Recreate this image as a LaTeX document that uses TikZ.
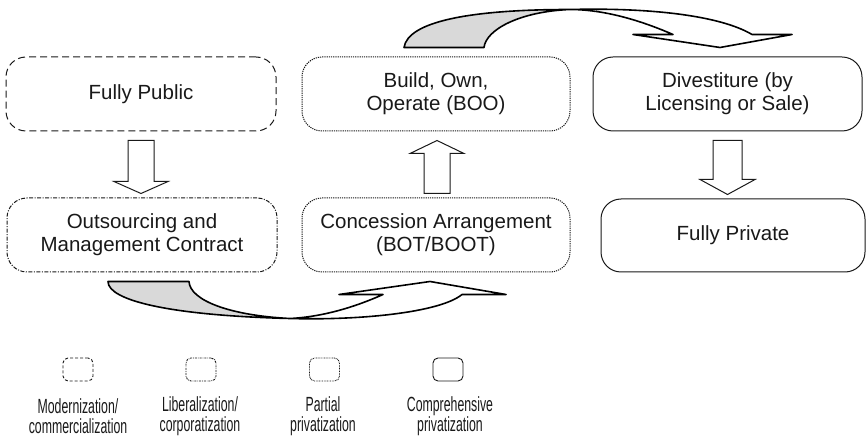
\documentclass[tikz,border=0pt]{standalone}
\usepackage{graphicx}
\usepackage{fontspec}
\setmainfont{Liberation Sans}
\usetikzlibrary{calc}

% squeezed legend lines
\newcommand{\narrowline}[1]{\scalebox{0.6}[1]{#1}}

\begin{document}
\begin{tikzpicture}[x=1pt, y=-1pt,
    every node/.style={align=center, text=black!90, font=\fontsize{20.5}{22.7}\selectfont},
    stage/.style={rounded corners=20pt, draw=black!90, line width=1pt, minimum height=74pt, inner sep=0pt},
    modern/.style={stage, dash pattern=on 7pt off 4pt},
    liberal/.style={stage, dash pattern=on 4pt off 1.5pt on 1pt off 1.5pt},
    partial/.style={stage, dash pattern=on 1.2pt off 1pt},
    full/.style={stage},
    blockarrow/.style={draw=black!90, line width=1pt, fill=white, line join=miter},
    twistarrow/.style={draw=black, line width=1.6pt, line join=round},
    keybox/.style={rounded corners=5pt, draw=black!90, line width=0.9pt, minimum width=30pt, minimum height=23pt, inner sep=0pt},
    keytext/.style={font=\fontsize{20.5}{20}\selectfont}]

    \useasboundingbox (0,0) rectangle (866,443);

    % the six stages
    \node[modern, minimum width=270pt] (pub) at (141,94) {Fully Public};
    \node[partial, minimum width=268pt] (boo) at (436,94) {Build, Own,\\Operate (BOO)};
    \node[full, minimum width=269pt] (div) at (727.5,94) {Divestiture (by\\Licensing or Sale)};
    \node[liberal, minimum width=270pt] (outs) at (142,235) {Outsourcing and\\Management Contract};
    \node[partial, minimum width=268pt] (conc) at (436,235) {Concession Arrangement\\(BOT/BOOT)};
    \node[full, minimum width=264pt, minimum height=73pt] (priv) at (733,235.5) {Fully Private};

    % straight block arrows
    \draw[blockarrow] ($(pub.south)+(-13,9)$) -- ++(0,41) -- ++(-14,0) -- ++(27,12)
        -- ++(27,-12) -- ++(-14,0) -- ++(0,-41) -- cycle;
    \draw[blockarrow] ($(conc.north)+(-12,-4)$) -- ++(0,-40) -- ++(-14,0) -- ++(27,-13)
        -- ++(27,13) -- ++(-14,0) -- ++(0,40) -- cycle;
    \draw[blockarrow] ($(div.south)+(-14.5,9)$) -- ++(0,39) -- ++(-13,0) -- ++(27.5,15)
        -- ++(27.5,-15) -- ++(-13,0) -- ++(0,-39) -- cycle;

    % lower twisted arrow, outsourcing -> concession
    \begin{scope}[shift={(outs.south)}]
        \fill[black!15] (-34,9) -- (47,9) .. controls (48,28) and (88,43) .. (148,46)
            .. controls (28,43) and (-34,28) .. (-34,9) -- cycle;
        \fill[white] (148,46) .. controls (188,44) and (223,30) .. (241,22) -- (197,22)
            -- (288,9) -- (364,22) -- (320,22) .. controls (298,40) and (218,48) .. (148,46) -- cycle;
        \draw[twistarrow] (-34,9) .. controls (-34,28) and (28,43) .. (148,46)
            .. controls (188,44) and (223,30) .. (241,22) -- (197,22) -- (288,9) -- (364,22)
            -- (320,22) .. controls (298,40) and (218,48) .. (148,46)
            .. controls (88,43) and (48,28) .. (47,9) -- cycle;
    \end{scope}

    % upper twisted arrow, BOO -> divestiture
    \begin{scope}[shift={(boo.north)}]
        \fill[black!15] (-32,-9) -- (48,-9) .. controls (50,-27) and (84,-45) .. (134,-47)
            .. controls (34,-47) and (-28,-35) .. (-32,-9) -- cycle;
        \fill[white] (134,-47) .. controls (174,-47) and (214,-32) .. (237,-22) -- (197,-22)
            -- (284,-9) -- (356,-22) -- (316,-22) .. controls (284,-41) and (214,-49) .. (134,-47) -- cycle;
        \draw[twistarrow] (-32,-9) .. controls (-28,-35) and (34,-47) .. (134,-47)
            .. controls (174,-47) and (214,-32) .. (237,-22) -- (197,-22) -- (284,-9) -- (356,-22)
            -- (316,-22) .. controls (284,-41) and (214,-49) .. (134,-47)
            .. controls (84,-45) and (50,-27) .. (48,-9) -- cycle;
    \end{scope}

    % legend
    \node[keybox, dash pattern=on 3pt off 2pt] (kmod) at (78,369.5) {};
    \node[keybox, dash pattern=on 2pt off 1pt on 0.7pt off 1pt] (klib) at (201,369.5) {};
    \node[keybox, dash pattern=on 0.8pt off 0.8pt] (kpart) at (324.5,369.5) {};
    \node[keybox] (kfull) at (448,369.5) {};

    \node[keytext] (lmod) at (78,416) {\narrowline{Modernization/}\\\narrowline{commercialization}};
    \node[keytext] (llib) at (200,416) {\narrowline{Liberalization/}\\\narrowline{corporatization}};
    \node[keytext] (lpart) at (323,416) {\narrowline{Partial}\\\narrowline{privatization}};
    \node[keytext] (lfull) at (450,416) {\narrowline{Comprehensive}\\\narrowline{privatization}};
\end{tikzpicture}
\end{document}
